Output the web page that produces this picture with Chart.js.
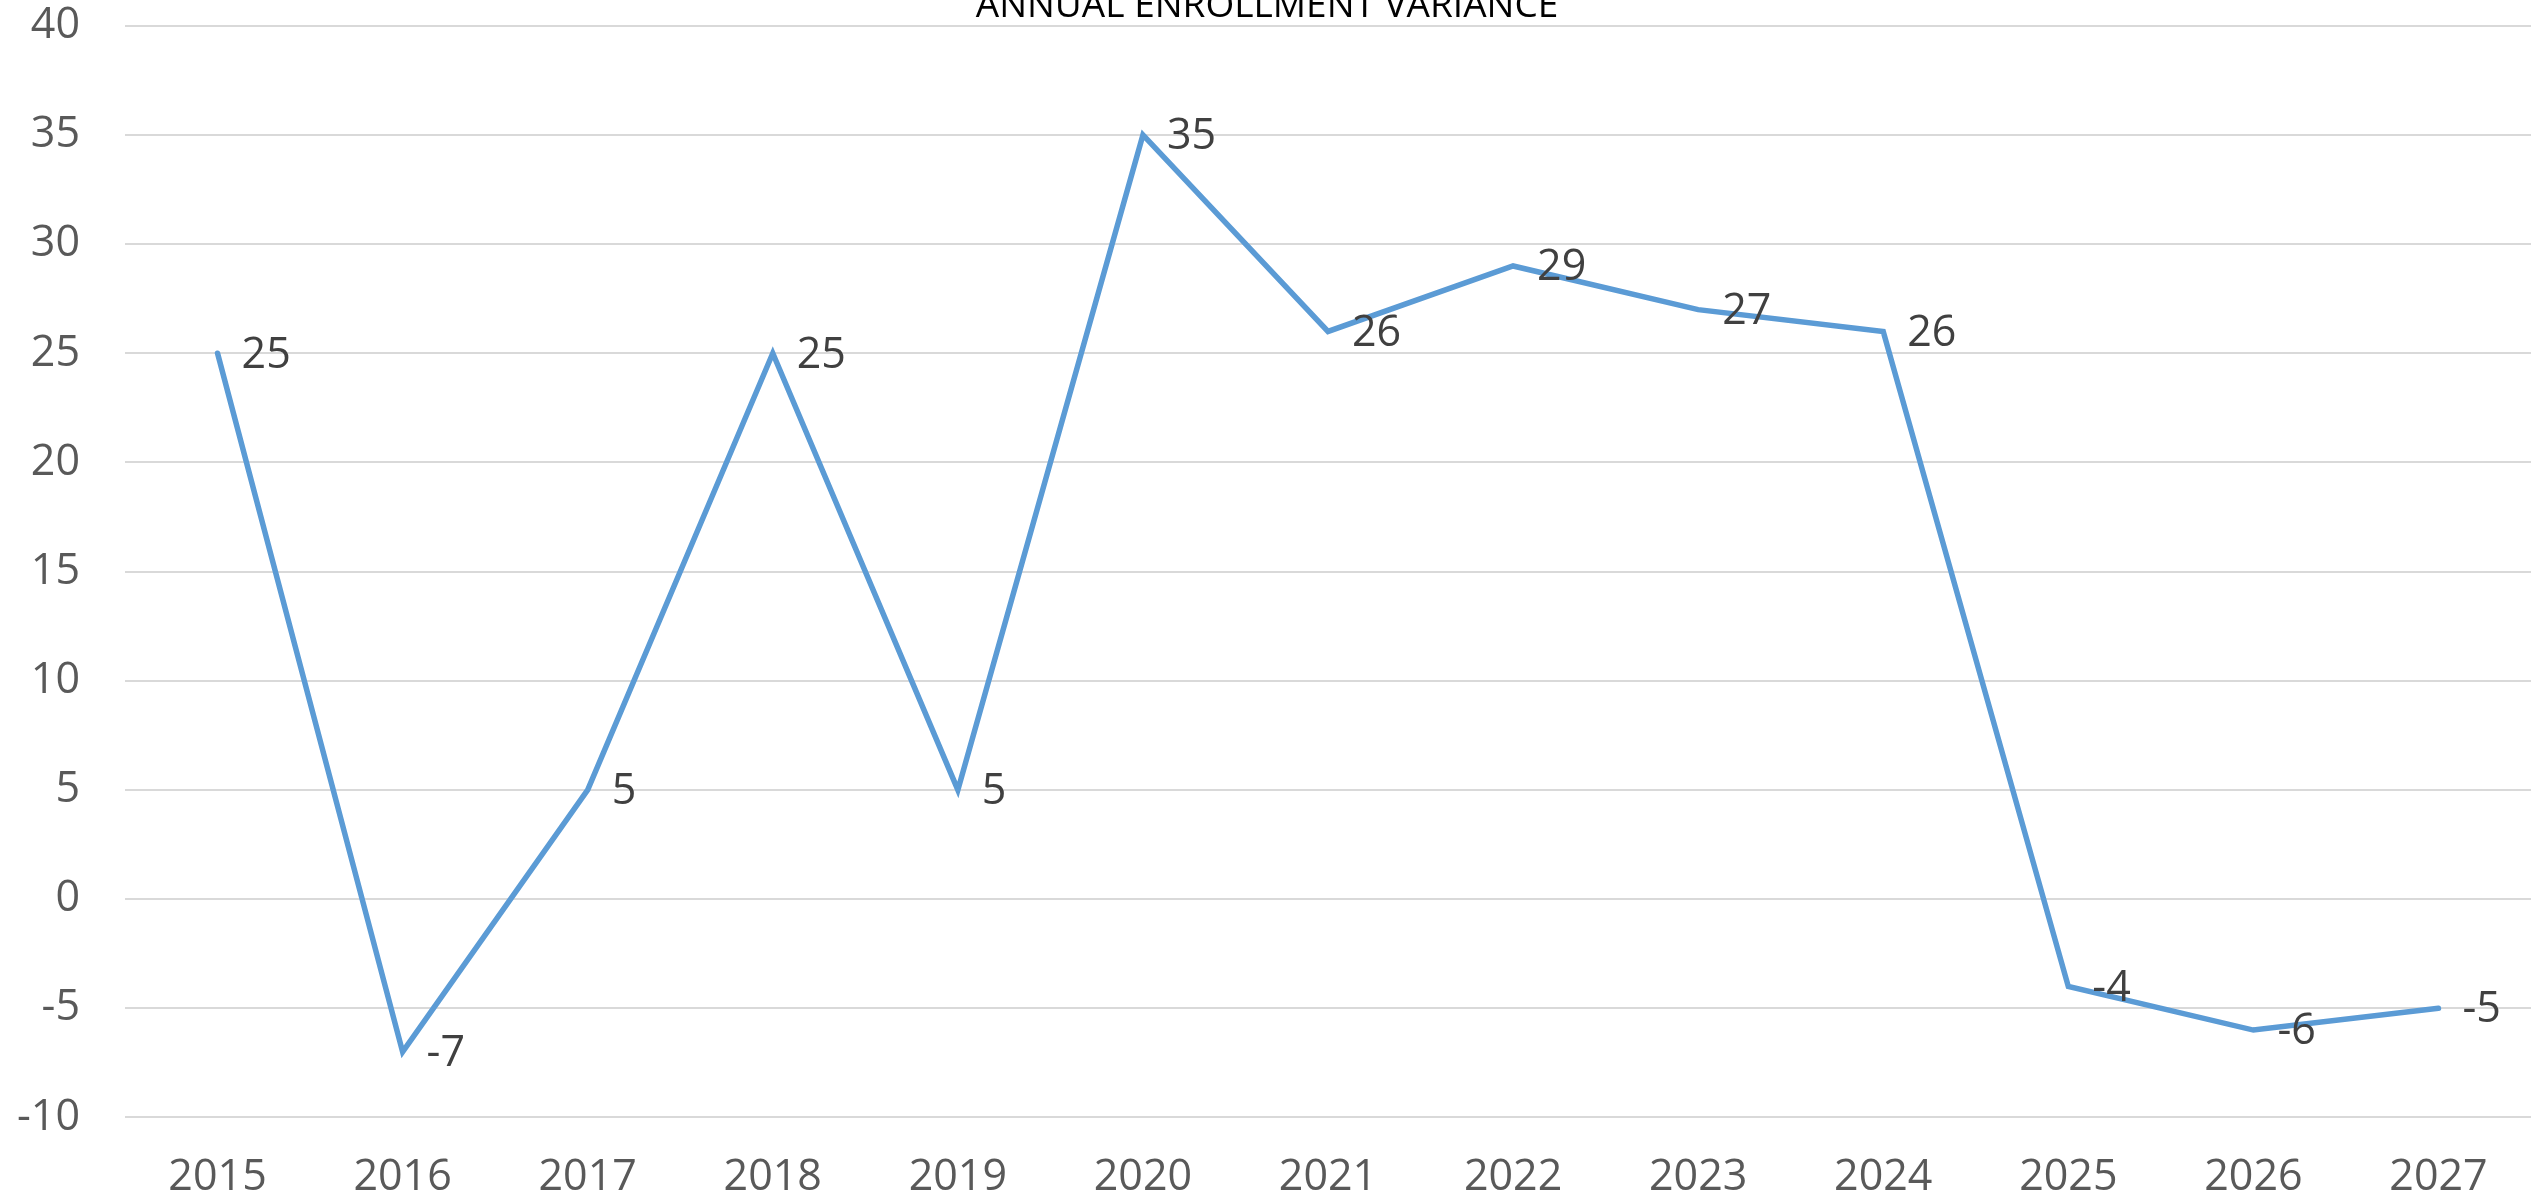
<!DOCTYPE html>
<html>
<head>
<meta charset="utf-8">
<script src="https://cdn.jsdelivr.net/npm/chart.js@4"></script>
<style>
  html, body { margin: 0; padding: 0; background: #fff; }
  canvas { display: block; }
</style>
</head>
<body>
<canvas id="chart" width="2534" height="1202"></canvas>
<script>

// data

const years = ['2015', '2016', '2017', '2018', '2019', '2020', '2021', '2022', '2023', '2024', '2025', '2026', '2027'];
const variance = [25, -7, 5, 25, 5, 35, 26, 29, 27, 26, -4, -6, -5];
const yMin = -10;
const yMax = 40;
const yStep = 5;

const chartTitle = 'ANNUAL ENROLLMENT VARIANCE';

const fontFamily = '"Open Sans", "Noto Sans", sans-serif';

// title sits half off the top edge, like the original

const topTitle = {
  id: 'topTitle',
  afterDraw(chart) {
    const ctx = chart.ctx;
    ctx.save();
    ctx.font = '37px ' + fontFamily;
    ctx.fillStyle = '#000000';
    ctx.textAlign = 'center';
    ctx.textBaseline = 'alphabetic';
    ctx.fillText(chartTitle, chart.width / 2, 17);
    ctx.restore();
  }
}

// value labels to the right of each point

const pointLabels = {
  id: 'pointLabels',
  afterDatasetsDraw(chart) {
    const ctx = chart.ctx;
    const meta = chart.getDatasetMeta(0);
    ctx.save();
    ctx.font = '43px ' + fontFamily;
    ctx.fillStyle = '#404040';
    ctx.textAlign = 'left';
    ctx.textBaseline = 'middle';
    meta.data.forEach((pt, i) => {
      ctx.fillText(String(variance[i]), pt.x + 24, pt.y + 2);
    });
    ctx.restore();
  }
}

const tickFont = {
  family: fontFamily,
  size: 43,
  lineHeight: 1.2
}

const chart = new Chart(document.querySelector('#chart'), {
  type: 'line',
  data: {
    labels: years,
    datasets: [{
      data: variance,
      borderColor: '#5B9BD5',
      borderWidth: 5.5,
      borderCapStyle: 'round',
      pointRadius: 0,
      pointHoverRadius: 0,
      tension: 0,
      fill: false
    }]
  },
  options: {
    responsive: false,
    animation: false,
    devicePixelRatio: 1,
    layout: {
      // x labels hang a little below the canvas box, so the bottom is negative
      padding: { left: 17, right: 3, top: 0, bottom: -37 }
    },
    plugins: {
      legend: { display: false },
      title: { display: false },
      tooltip: { enabled: false }
    },
    scales: {
      x: {
        offset: true,
        grid: { display: false, drawTicks: false },
        border: { display: false },
        ticks: {
          font: tickFont,
          color: '#595959',
          padding: 35,
          maxRotation: 0
        }
      },
      y: {
        min: yMin,
        max: yMax,
        grid: {
          color: '#d9d9d9',
          lineWidth: 2,
          drawTicks: true,
          tickLength: 45,
          tickColor: 'rgba(0,0,0,0)'
        },
        border: { display: false },
        ticks: {
          stepSize: yStep,
          font: tickFont,
          color: '#595959',
          padding: 0
        }
      }
    }
  },
  plugins: [topTitle, pointLabels]
})

</script>
</body>
</html>
